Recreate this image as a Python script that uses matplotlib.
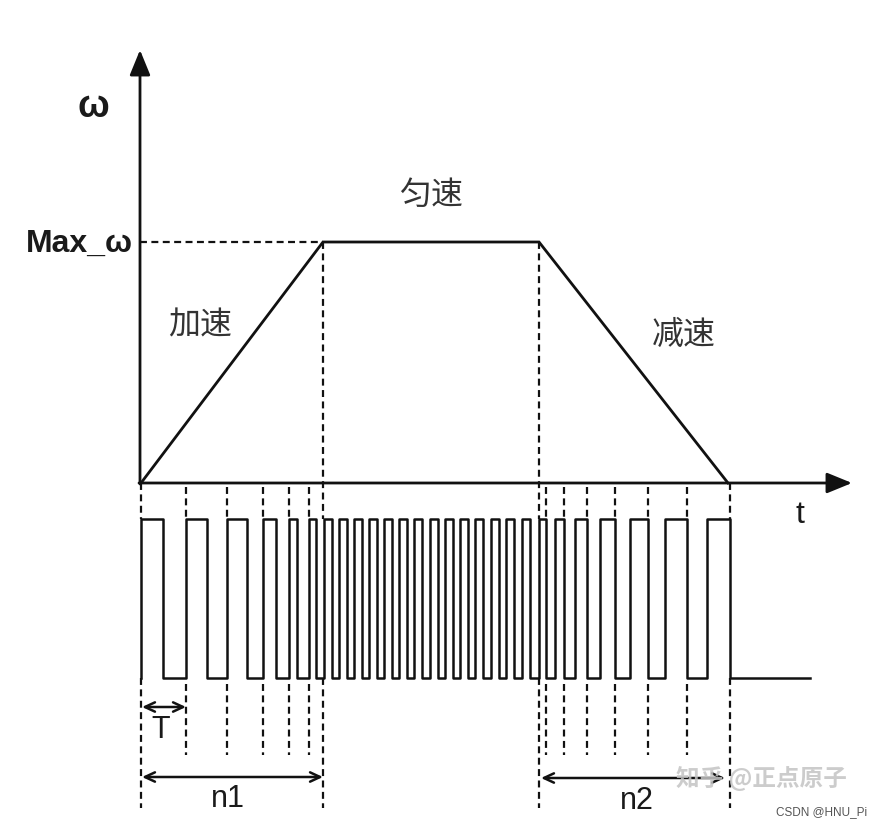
import numpy as np
import matplotlib.pyplot as plt

plt.rcParams['lines.scale_dashes'] = False

# speed profile (time, omega as fraction of Max_w), time in image units
profile_t = [141, 323, 539, 728]
profile_w = [0, 1, 1, 0]

# pulse train: high intervals (rise, fall)
accel_rise = [141, 186, 227, 263, 289, 309]
accel_fall = [163, 207, 247, 276, 297, 316]
const_rise = [324, 339, 354, 369, 384, 399, 414, 430, 445, 460, 475, 491, 506, 522]
const_fall = [332, 347, 362, 377, 392, 407, 422, 438, 453, 468, 483, 499, 514, 530]
decel_rise = [539, 555, 575, 600, 630, 665, 707]
decel_fall = [546, 564, 587, 615, 648, 687, 730]
pulse_end = 810

# dashed markers on the pulse train
short_marks = [186, 227, 263, 289, 309, 546, 564, 587, 615, 648, 687]
long_marks = [141, 323, 539, 730]

# layout (pixels)
W, H = 881, 827
x0, y_axis = 140, 483
y_max = 242
y_top, x_end = 50, 852
p_high, p_low = 519, 678
short_bottom, long_bottom = 755, 808

fig = plt.figure(figsize=(W / 100, H / 100), dpi=100)
ax = fig.add_axes([0, 0, 1, 1])
ax.set_xlim(0, W)
ax.set_ylim(H, 0)
ax.axis('off')

lc = '#111111'
dash = (0, (5, 3.2))

# axes with arrows
axarr = dict(arrowstyle='-|>,head_length=1.1,head_width=0.45', color=lc, lw=2,
             shrinkA=0, shrinkB=0, mutation_scale=14)
ax.annotate('', xy=(x0, y_top), xytext=(x0, y_axis + 1), arrowprops=axarr)
ax.annotate('', xy=(x_end, y_axis), xytext=(x0 - 1, y_axis), arrowprops=axarr)

# trapezoid speed curve
py = [y_axis - w * (y_axis - y_max) for w in profile_w]
ax.plot(profile_t, py, color=lc, lw=2, solid_joinstyle='miter')

# dashed guide lines
ax.plot([x0, profile_t[1]], [y_max, y_max], color=lc, lw=1.6, linestyle=dash)
for xm in long_marks:
    ytop = y_max if xm in profile_t[1:3] else y_axis
    ax.plot([xm, xm], [ytop, p_high], color=lc, lw=1.6, linestyle=dash)
    ax.plot([xm, xm], [p_low, long_bottom], color=lc, lw=1.6, linestyle=dash)
for xm in short_marks:
    ax.plot([xm, xm], [y_axis + 4, p_high], color=lc, lw=1.6, linestyle=dash)
    ax.plot([xm, xm], [p_low + 6, short_bottom], color=lc, lw=1.6, linestyle=dash)

# pulse train
rises = accel_rise + const_rise + decel_rise
falls = accel_fall + const_fall + decel_fall
xs, ys = [], []
for r, f in zip(rises, falls):
    xs += [r, r, f, f]
    ys += [p_low, p_high, p_high, p_low]
xs.append(pulse_end)
ys.append(p_low)
ax.plot(xs, ys, color=lc, lw=1.8, solid_joinstyle='round')

# dimension arrows
arr = dict(arrowstyle='<->,head_length=0.6,head_width=0.28', color=lc, lw=1.8,
           shrinkA=0, shrinkB=0, mutation_scale=12)
ax.annotate('', xy=(accel_rise[0] + 1, 707), xytext=(accel_rise[1], 707), arrowprops=arr)
ax.annotate('', xy=(long_marks[0] + 1, 777), xytext=(long_marks[1], 777), arrowprops=arr)
ax.annotate('', xy=(long_marks[2] + 2, 778), xytext=(profile_t[3] - 3, 778), arrowprops=arr)

# labels
sans = ['Liberation Sans', 'DejaVu Sans']
cjk = ['Noto Sans CJK SC', 'DejaVu Sans']
tc = '#1a1a1a'
ax.text(93, 107, 'ω', fontsize=27, fontweight='bold', family=sans, color=tc,
        ha='center', va='center')
ax.text(133, 252, 'Max_ω', fontsize=23, fontweight='bold', family=sans, color=tc,
        ha='right', va='baseline')
ax.text(200, 325, '加速', fontsize=23, family=cjk, color='#333333', ha='center', va='center')
ax.text(431, 195, '匀速', fontsize=23, family=cjk, color='#333333', ha='center', va='center')
ax.text(684, 335, '减速', fontsize=23, family=cjk, color='#333333', ha='center', va='center')
ax.text(800, 515, 't', fontsize=23, family=sans, color=tc, ha='center', va='center')
ax.text(161, 730, 'T', fontsize=22, family=sans, color=tc, ha='center', va='center')
ax.text(228, 799, 'n1', fontsize=22, family=sans, color=tc, ha='center', va='center')
ax.text(637, 801, 'n2', fontsize=22, family=sans, color=tc, ha='center', va='center')

# watermarks
ax.text(761, 779, '知乎 @正点原子', fontsize=17, fontweight='bold', family=cjk,
        color='#c4c4c4', alpha=0.85, ha='center', va='center')
ax.text(867, 812, 'CSDN @HNU_Pi', fontsize=8.5, family=sans, color='#555555',
        ha='right', va='center')

plt.savefig('out.png', dpi=100)
